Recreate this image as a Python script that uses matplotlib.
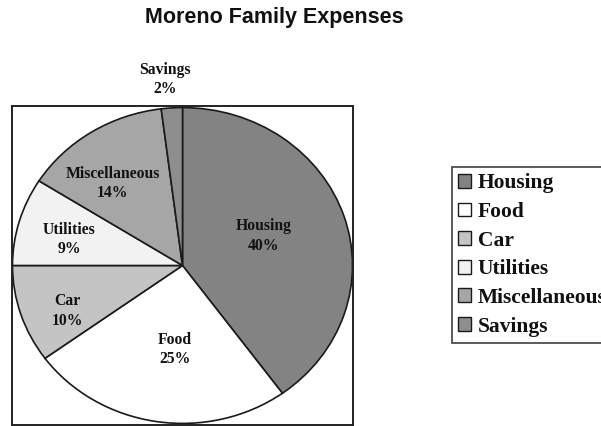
import matplotlib
matplotlib.use("Agg")
import matplotlib.pyplot as plt
from matplotlib.patches import Patch

categories = ["Housing", "Food", "Car", "Utilities", "Miscellaneous", "Savings"]
percent = [40, 25, 10, 9, 14, 2]
colors = ["#838383", "#ffffff", "#c4c4c4", "#f2f2f2", "#a6a6a6", "#8e8e8e"]

# label anchor positions (data units inside the pie axes)
label_pos = [(0.479, 0.187), (-0.044, -0.532), (-0.679, -0.288),
             (-0.668, 0.165), (-0.409, 0.519), (-0.103, 1.177)]

fig = plt.figure(figsize=(6.01, 4.26), dpi=100)
fig.patch.set_facecolor("white")

ax = fig.add_axes([12 / 601, 1 / 426, 341 / 601, 319 / 426])
wedges, _ = ax.pie(percent, colors=colors, startangle=90, counterclock=False,
                   wedgeprops=dict(edgecolor="#1a1a1a", linewidth=1.2))
ax.set_aspect("auto")
ax.set_xlim(-1.003, 1.003)
ax.set_ylim(-1.01, 1.01)
ax.set_frame_on(True)
for s in ax.spines.values():
    s.set_color("#222222")
    s.set_linewidth(1.4)
ax.set_xticks([])
ax.set_yticks([])

for name, p, (x, y) in zip(categories, percent, label_pos):
    ax.text(x, y, f"{name}\n{p}%", ha="center", va="center",
            fontfamily="Liberation Serif", fontweight="bold", fontsize=11.3,
            linespacing=1.3, color="#111111", clip_on=False)

fig.text(274.5 / 601, 1 - 17 / 426, "Moreno Family Expenses", ha="center", va="center",
         fontfamily="Liberation Sans", fontweight="bold", fontsize=15.5, color="#111111")

handles = [Patch(facecolor=c, edgecolor="#1a1a1a", linewidth=1.0) for c in colors]
leg = fig.legend(handles, categories, loc="upper left",
                 bbox_to_anchor=(452 / 601, 1 - 167 / 426),
                 prop=dict(family="Liberation Serif", weight="bold", size=15.5),
                 frameon=True, fancybox=False, shadow=False,
                 handlelength=0.6, handleheight=0.6, handletextpad=0.3,
                 labelspacing=0.4, borderpad=0.3, borderaxespad=0.0)
leg.get_frame().set_edgecolor("#222222")
leg.get_frame().set_linewidth(1.3)
for t in leg.get_texts():
    t.set_color("#111111")

fig.savefig("out.png", dpi=100)
